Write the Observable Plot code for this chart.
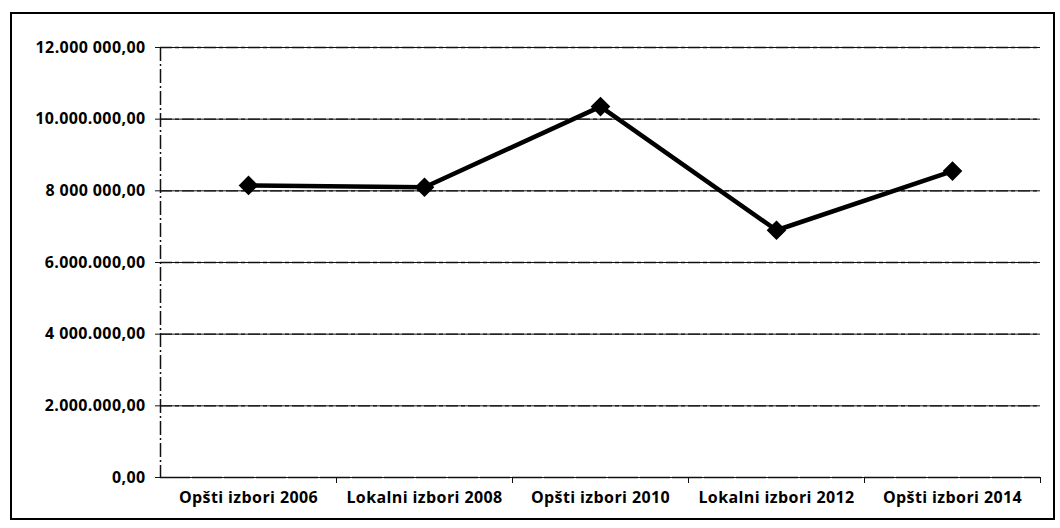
<!DOCTYPE html>
<html>
<head>
<meta charset="utf-8">
<script src="https://cdn.jsdelivr.net/npm/d3@7"></script>
<script src="https://cdn.jsdelivr.net/npm/@observablehq/plot@0.6"></script>
<style>
  html, body { margin: 0; padding: 0; background: #fff; }
  #wrap { position: relative; width: 1060px; height: 528px; overflow: hidden; }
  #frame { position: absolute; left: 10px; top: 12px; width: 1045px; height: 508px; border: 2px solid #000; box-sizing: border-box; pointer-events: none; }
  #chart { position: absolute; left: 0; top: 0; }
</style>
</head>
<body>
<div id="wrap"><div id="chart"></div><div id="frame"></div></div>
<script>
const categories = ["Opšti izbori 2006", "Lokalni izbori 2008", "Opšti izbori 2010", "Lokalni izbori 2012", "Opšti izbori 2014"];
const values = [8150000, 8100000, 10350000, 6900000, 8550000];
const yTicks = [0, 2000000, 4000000, 6000000, 8000000, 10000000, 12000000];
const yTickLabels = ["0,00", "2.000.000,00", "4 000.000,00", "6.000.000,00", "8 000 000,00", "10.000.000,00", "12.000 000,00"];

const data = categories.map((c, i) => ({cat: c, pos: i + 0.5, value: values[i]}));
const labelOf = new Map(yTicks.map((t, i) => [t, yTickLabels[i]]));
const boundaries = d3.range(0, categories.length + 1);

const font = "'Open Sans', sans-serif";

const chart = Plot.plot({
  width: 1060,
  height: 528,
  marginLeft: 160,
  marginRight: 20,
  marginTop: 47,
  marginBottom: 51,
  style: {fontFamily: font, fontSize: "16px", fontWeight: 700, color: "#000", background: "transparent", letterSpacing: "0.4px"},
  x: {type: "linear", domain: [0, categories.length], label: null},
  y: {domain: [0, 12000000], label: null},
  marks: [
    Plot.ruleY(yTicks.filter(t => t > 0), {stroke: "#111", strokeWidth: 1.4, strokeDasharray: "12,3,4,3"}),
    Plot.ruleX([0], {stroke: "#111", strokeWidth: 1.5, strokeDasharray: "14,3,2,3"}),
    Plot.ruleY([0], {stroke: "#111", strokeWidth: 1.6, strokeDasharray: "30,2"}),
    Plot.axisY({ticks: yTicks, tickFormat: d => labelOf.get(d), tickSize: 5, tickPadding: 10, stroke: "#111", fontSize: 16, fontWeight: 700, fill: "#000", label: null}),
    Plot.tickY(yTicks, {x1: 0, x2: 0, y: d => d, stroke: "#111"}),
    Plot.axisX({ticks: boundaries.slice(1), tickFormat: () => "", tickSize: 6, stroke: "#111", label: null}),
    Plot.axisX({ticks: data.map(d => d.pos), tickFormat: d => categories[Math.floor(d)], tickSize: 0, tickPadding: 14, fontSize: 16, fontWeight: 700, fill: "#000", label: null}),
    Plot.line(data, {x: "pos", y: "value", stroke: "#000", strokeWidth: 4.5, strokeLinejoin: "round"}),
    Plot.dot(data, {x: "pos", y: "value", symbol: "square", rotate: 45, r: 7, fill: "#000", stroke: "#000"})
  ]
});
document.getElementById("chart").appendChild(chart);
</script>
</body>
</html>
